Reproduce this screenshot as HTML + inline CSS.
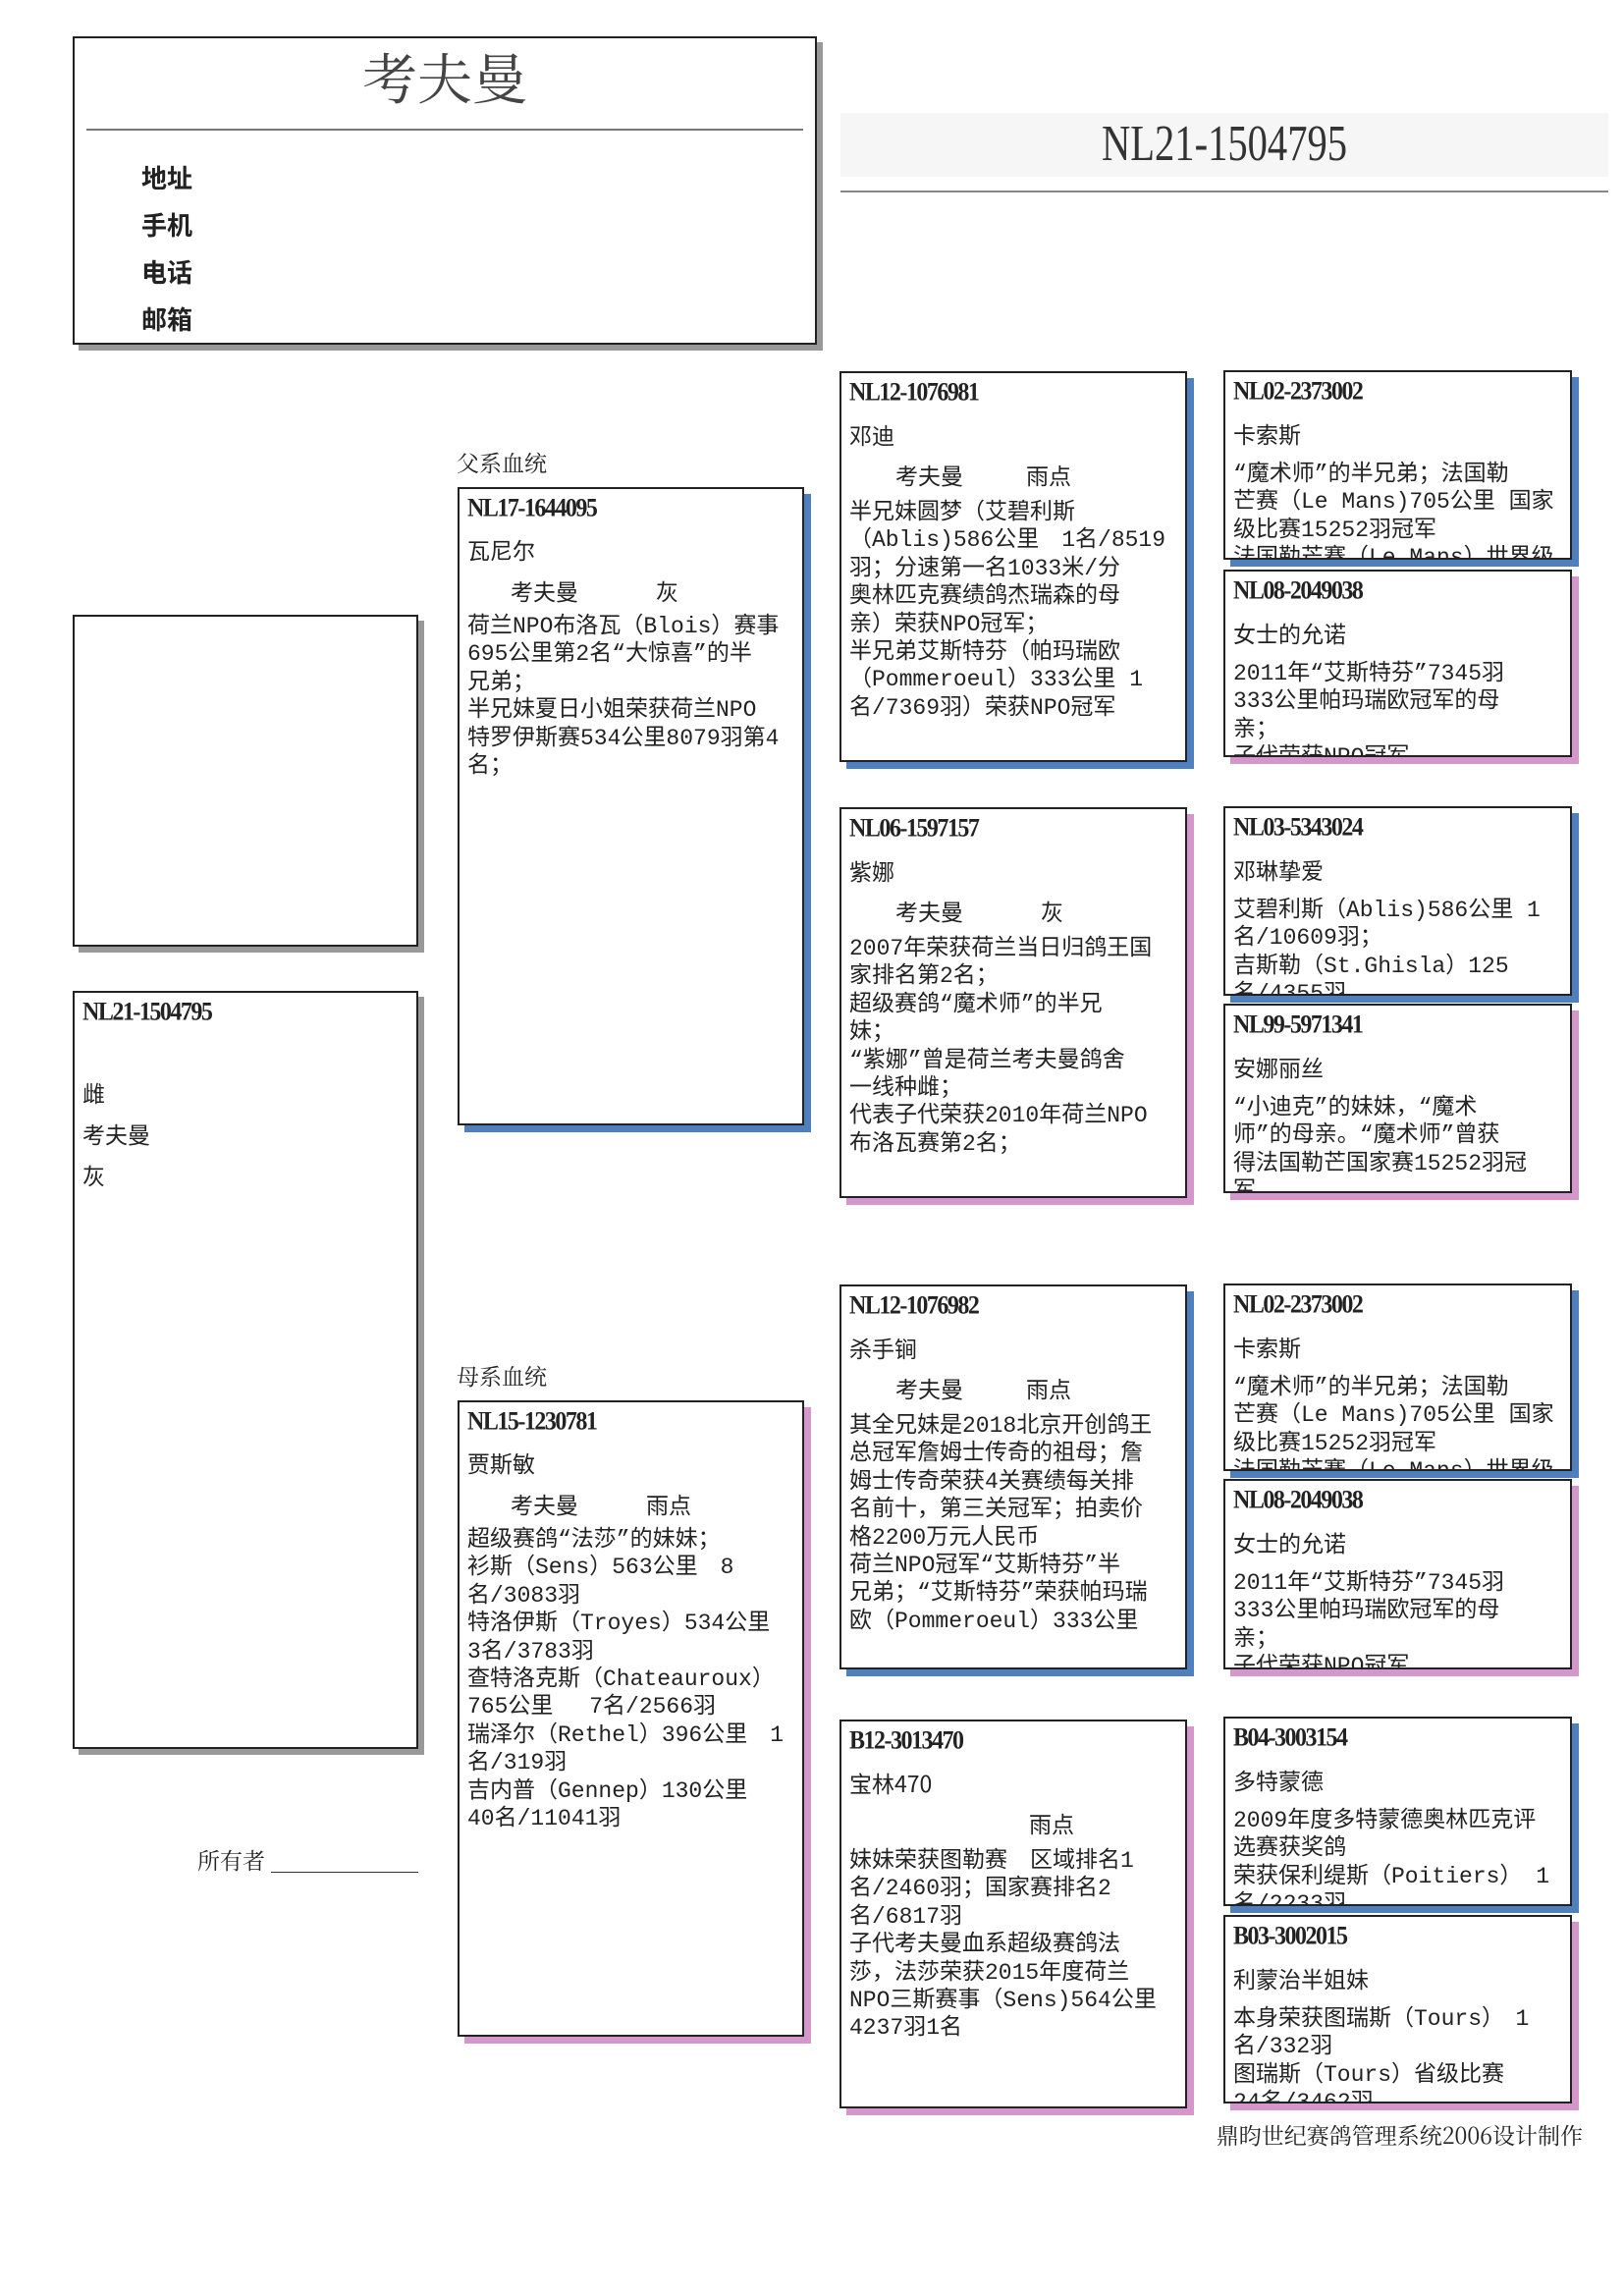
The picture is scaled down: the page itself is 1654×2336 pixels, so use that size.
<!DOCTYPE html>
<html><head><meta charset="utf-8">
<style>
body{margin:0;background:#fff;}
#pg{position:relative;width:1654px;height:2336px;overflow:hidden;background:#fff;font-family:"Liberation Sans","Noto Sans CJK SC",sans-serif;color:#222;}
.a{position:absolute;white-space:nowrap;}
.bx{position:absolute;border:2px solid #222;background:#fff;box-sizing:border-box;overflow:hidden;}
.bl{box-shadow:7px 7px 0 #4f7fbf;}
.pk{box-shadow:7px 7px 0 #d596cc;}
.gr{box-shadow:6px 6px 0 #999;}
.id{position:absolute;left:8px;font-family:"Liberation Serif","Noto Serif CJK SC",serif;font-weight:bold;font-size:24px;line-height:28px;letter-spacing:-1.5px;transform:scaleY(1.1);}
.t{position:absolute;left:8px;font-size:23px;line-height:28.4px;white-space:nowrap;font-family:"Liberation Mono","Noto Sans CJK SC",monospace;}
.ow{position:absolute;font-size:23px;line-height:28px;font-family:"Noto Sans CJK SC",sans-serif;}
</style></head><body><div id="pg">

<!-- header -->
<div class="bx gr" style="left:74px;top:37px;width:758px;height:314px;">
 <div class="a" style="left:0;width:754px;text-align:center;top:4px;font-size:56px;line-height:70px;font-family:'Noto Serif CJK SC',serif;color:#444;">考夫曼</div>
 <div class="a" style="left:12px;top:92px;width:730px;height:2px;background:#777;"></div>
 <div class="a" style="left:68px;top:118px;font-size:26px;font-weight:bold;line-height:48px;font-family:'Noto Sans CJK SC',sans-serif;">地址<br>手机<br>电话<br>邮箱</div>
</div>
<div class="a" style="left:856px;top:115px;width:782px;height:65px;background:#f6f6f6;"></div>
<div class="a" style="left:856px;top:116px;width:782px;text-align:center;font-family:'Liberation Serif',serif;font-size:52px;line-height:62px;transform:scaleX(0.78);color:#333;">NL21-1504795</div>
<div class="a" style="left:856px;top:194px;width:782px;height:2px;background:#888;"></div>

<!-- photo & bird -->
<div class="bx gr" style="left:74px;top:626px;width:352px;height:338px;"></div>
<div class="bx gr" style="left:74px;top:1009px;width:352px;height:772px;">
 <div class="id" style="top:6px;">NL21-1504795</div>
 <div class="t" style="top:80px;line-height:42px;font-family:'Noto Sans CJK SC',sans-serif;">雌<br>考夫曼<br>灰</div>
</div>
<div class="a" style="left:201px;top:1878px;font-size:23px;line-height:32px;font-family:'Noto Serif CJK SC',serif;">所有者</div>
<div class="a" style="left:276px;top:1906px;width:150px;height:1px;background:#333;"></div>

<!-- sire -->
<div class="a" style="left:465px;top:456px;font-size:23px;line-height:30px;font-family:'Noto Serif CJK SC',serif;">父系血统</div>
<div class="bx bl" style="left:466px;top:496px;width:353px;height:650px;">
 <div class="id" style="top:6px;">NL17-1644095</div>
 <div class="ow" style="left:8px;top:47px;">瓦尼尔</div>
 <div class="ow" style="left:52px;top:89px;">考夫曼</div><div class="ow" style="left:200px;top:89px;">灰</div>
 <div class="t" style="top:126px;">荷兰NPO布洛瓦（Blois）赛事<br>695公里第2名“大惊喜”的半<br>兄弟；<br>半兄妹夏日小姐荣获荷兰NPO<br>特罗伊斯赛534公里8079羽第4<br>名；</div>
</div>

<!-- dam -->
<div class="a" style="left:465px;top:1386px;font-size:23px;line-height:30px;font-family:'Noto Serif CJK SC',serif;">母系血统</div>
<div class="bx pk" style="left:466px;top:1426px;width:353px;height:648px;">
 <div class="id" style="top:6px;">NL15-1230781</div>
 <div class="ow" style="left:8px;top:47px;">贾斯敏</div>
 <div class="ow" style="left:52px;top:89px;">考夫曼</div><div class="ow" style="left:190px;top:89px;">雨点</div>
 <div class="t" style="top:126px;">超级赛鸽“法莎”的妹妹；<br>衫斯（Sens）563公里　8<br>名/3083羽<br>特洛伊斯（Troyes）534公里<br>3名/3783羽<br>查特洛克斯（Chateauroux）<br>765公里　 7名/2566羽<br>瑞泽尔（Rethel）396公里　1<br>名/319羽<br>吉内普（Gennep）130公里<br>40名/11041羽</div>
</div>

<!-- gen3 -->
<div class="bx bl" style="left:855px;top:378px;width:354px;height:398px;">
 <div class="id" style="top:6px;">NL12-1076981</div>
 <div class="ow" style="left:8px;top:48px;">邓迪</div>
 <div class="ow" style="left:55px;top:89px;">考夫曼</div><div class="ow" style="left:188px;top:89px;">雨点</div>
 <div class="t" style="top:128px;">半兄妹圆梦（艾碧利斯<br>（Ablis)586公里　1名/8519<br>羽；分速第一名1033米/分<br>奥林匹克赛绩鸽杰瑞森的母<br>亲）荣获NPO冠军；<br>半兄弟艾斯特芬（帕玛瑞欧<br>（Pommeroeul）333公里 1<br>名/7369羽）荣获NPO冠军</div>
</div>
<div class="bx pk" style="left:855px;top:822px;width:354px;height:398px;">
 <div class="id" style="top:6px;">NL06-1597157</div>
 <div class="ow" style="left:8px;top:48px;">紫娜</div>
 <div class="ow" style="left:55px;top:89px;">考夫曼</div><div class="ow" style="left:203px;top:89px;">灰</div>
 <div class="t" style="top:128px;">2007年荣获荷兰当日归鸽王国<br>家排名第2名；<br>超级赛鸽“魔术师”的半兄<br>妹；<br>“紫娜”曾是荷兰考夫曼鸽舍<br>一线种雌；<br>代表子代荣获2010年荷兰NPO<br>布洛瓦赛第2名；</div>
</div>
<div class="bx bl" style="left:855px;top:1308px;width:354px;height:392px;">
 <div class="id" style="top:6px;">NL12-1076982</div>
 <div class="ow" style="left:8px;top:48px;">杀手锏</div>
 <div class="ow" style="left:55px;top:89px;">考夫曼</div><div class="ow" style="left:188px;top:89px;">雨点</div>
 <div class="t" style="top:128px;">其全兄妹是2018北京开创鸽王<br>总冠军詹姆士传奇的祖母；詹<br>姆士传奇荣获4关赛绩每关排<br>名前十，第三关冠军；拍卖价<br>格2200万元人民币<br>荷兰NPO冠军“艾斯特芬”半<br>兄弟；“艾斯特芬”荣获帕玛瑞<br>欧（Pommeroeul）333公里</div>
</div>
<div class="bx pk" style="left:855px;top:1751px;width:354px;height:396px;">
 <div class="id" style="top:6px;">B12-3013470</div>
 <div class="ow" style="left:8px;top:48px;">宝林470</div>
 <div class="ow" style="left:191px;top:89px;">雨点</div>
 <div class="t" style="top:128px;">妹妹荣获图勒赛　区域排名1<br>名/2460羽；国家赛排名2<br>名/6817羽<br>子代考夫曼血系超级赛鸽法<br>莎，法莎荣获2015年度荷兰<br>NPO三斯赛事（Sens)564公里<br>4237羽1名</div>
</div>

<!-- gen4 -->
<div class="bx bl" style="left:1246px;top:377px;width:355px;height:193px;">
 <div class="id" style="top:6px;">NL02-2373002</div>
 <div class="ow" style="left:8px;top:48px;">卡索斯</div>
 <div class="t" style="top:90px;">“魔术师”的半兄弟；法国勒<br>芒赛（Le Mans)705公里 国家<br>级比赛15252羽冠军<br>法国勒芒赛（Le Mans）世界级</div>
</div>
<div class="bx pk" style="left:1246px;top:580px;width:355px;height:191px;">
 <div class="id" style="top:6px;">NL08-2049038</div>
 <div class="ow" style="left:8px;top:48px;">女士的允诺</div>
 <div class="t" style="top:90px;">2011年“艾斯特芬”7345羽<br>333公里帕玛瑞欧冠军的母<br>亲；<br>子代荣获NPO冠军</div>
</div>
<div class="bx bl" style="left:1246px;top:821px;width:355px;height:193px;">
 <div class="id" style="top:6px;">NL03-5343024</div>
 <div class="ow" style="left:8px;top:48px;">邓琳挚爱</div>
 <div class="t" style="top:90px;">艾碧利斯（Ablis)586公里 1<br>名/10609羽；<br>吉斯勒（St.Ghisla）125<br>名/4355羽</div>
</div>
<div class="bx pk" style="left:1246px;top:1022px;width:355px;height:193px;">
 <div class="id" style="top:6px;">NL99-5971341</div>
 <div class="ow" style="left:8px;top:48px;">安娜丽丝</div>
 <div class="t" style="top:90px;">“小迪克”的妹妹，“魔术<br>师”的母亲。“魔术师”曾获<br>得法国勒芒国家赛15252羽冠<br>军</div>
</div>
<div class="bx bl" style="left:1246px;top:1307px;width:355px;height:191px;">
 <div class="id" style="top:6px;">NL02-2373002</div>
 <div class="ow" style="left:8px;top:48px;">卡索斯</div>
 <div class="t" style="top:90px;">“魔术师”的半兄弟；法国勒<br>芒赛（Le Mans)705公里 国家<br>级比赛15252羽冠军<br>法国勒芒赛（Le Mans）世界级</div>
</div>
<div class="bx pk" style="left:1246px;top:1506px;width:355px;height:194px;">
 <div class="id" style="top:6px;">NL08-2049038</div>
 <div class="ow" style="left:8px;top:48px;">女士的允诺</div>
 <div class="t" style="top:90px;">2011年“艾斯特芬”7345羽<br>333公里帕玛瑞欧冠军的母<br>亲；<br>子代荣获NPO冠军</div>
</div>
<div class="bx bl" style="left:1246px;top:1748px;width:355px;height:193px;">
 <div class="id" style="top:6px;">B04-3003154</div>
 <div class="ow" style="left:8px;top:48px;">多特蒙德</div>
 <div class="t" style="top:90px;">2009年度多特蒙德奥林匹克评<br>选赛获奖鸽<br>荣获保利缇斯（Poitiers） 1<br>名/2233羽</div>
</div>
<div class="bx pk" style="left:1246px;top:1950px;width:355px;height:192px;">
 <div class="id" style="top:6px;">B03-3002015</div>
 <div class="ow" style="left:8px;top:48px;">利蒙治半姐妹</div>
 <div class="t" style="top:90px;">本身荣获图瑞斯（Tours）　1<br>名/332羽<br>图瑞斯（Tours）省级比赛<br>24名/3462羽</div>
</div>

<div class="a" style="left:1210px;top:2158px;width:402px;text-align:right;font-size:23px;line-height:32px;font-family:'Noto Serif CJK SC',serif;">鼎昀世纪赛鸽管理系统2006设计制作</div>
</div></body></html>
